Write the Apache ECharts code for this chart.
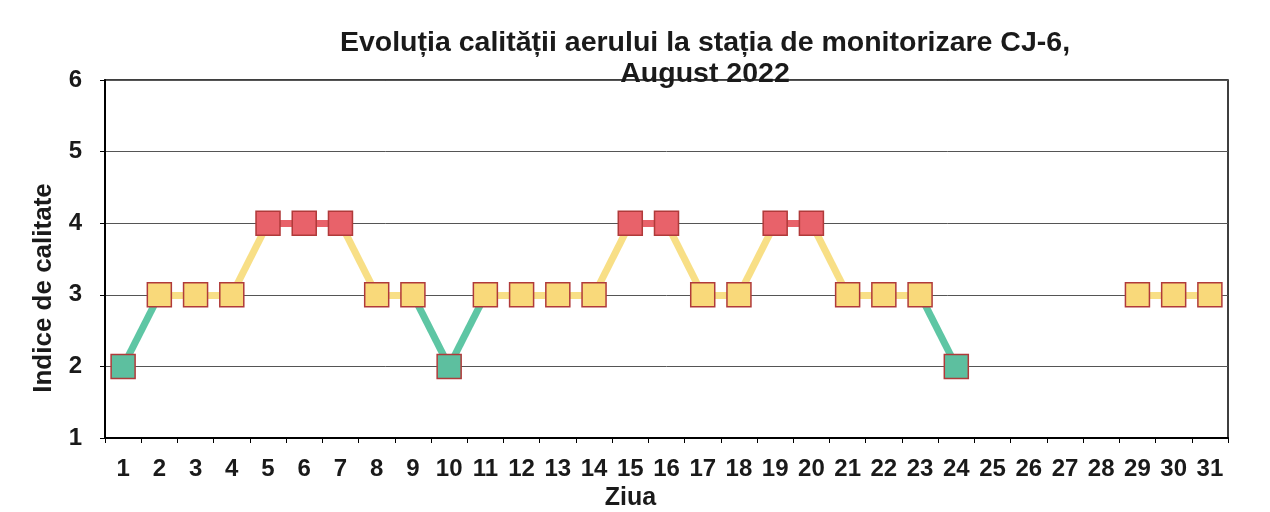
<!DOCTYPE html>
<html>
<head>
<meta charset="utf-8">
<script src="https://cdn.jsdelivr.net/npm/echarts@6/dist/echarts.min.js"></script>
<style>
    html, body { margin: 0; padding: 0; background: #fff; }
    #chart { width: 1270px; height: 512px; }
</style>
</head>
<body>
<div id="chart"></div>
<script>
// days of August 2022
let days = [];
for (let d = 1; d <= 31; d++) days.push(String(d));

// air quality index per day (no data 25-28)
let quality = [2, 3, 3, 3, 4, 4, 4, 3, 3, 2, 3, 3, 3, 3, 4, 4, 3, 3, 4, 4, 3, 3, 3, 2, null, null, null, null, 3, 3, 3];

let yTicks = [1, 2, 3, 4, 5, 6];

let markColor = { 2: '#5dbf9f', 3: '#f9d97a', 4: '#e8626a' };
let lineColor = { 2: '#5ec6a4', 3: '#f8df86', 4: '#e8626a' };

// ----------------------------------------------------
// line segments, colour = lower end of the segment
let segments = [];
for (let i = 0; i < quality.length - 1; i++) {
    let a = quality[i], b = quality[i + 1];
    if (a == null || b == null) continue;
    segments.push({
        coords: [[i, a], [i + 1, b]],
        lineStyle: { color: lineColor[Math.min(a, b)] }
    });
}
let points = [];
for (let i = 0; i < quality.length; i++) {
    if (quality[i] == null) continue;
    points.push({
        value: [i, quality[i]],
        itemStyle: { color: markColor[quality[i]] }
    });
}

let font = 'Liberation Sans, Arial, sans-serif';
let chart = echarts.init(document.getElementById('chart'));
let option = {
    backgroundColor: '#fff',
    animation: false,
    title: {
        text: 'Evoluția calității aerului la stația de monitorizare CJ-6,\nAugust 2022',
        left: 705,
        top: 28,
        padding: 0,
        textAlign: 'center',
        textStyle: {
            fontFamily: font,
            fontSize: 28.5,
            fontWeight: 'bold',
            color: '#1a1a1a',
            lineHeight: 31
        }
    },
    grid: {
        left: 105,
        right: 42,
        top: 80,
        bottom: 74,
        outerBoundsMode: 'none',
        show: true,
        borderColor: '#000',
        borderWidth: 1.5
    },
    xAxis: {
        type: 'category',
        data: days,
        boundaryGap: true,
        name: 'Ziua',
        nameLocation: 'middle',
        nameGap: 47,
        nameTextStyle: { fontFamily: font, fontSize: 25, fontWeight: 'bold', color: '#1a1a1a', padding: [0, 72, 0, 0] },
        axisLine: { lineStyle: { color: '#000', width: 2 } },
        axisTick: { show: true, length: 5, lineStyle: { color: '#000' } },
        axisLabel: { interval: 0, margin: 19, fontFamily: font, fontSize: 24, fontWeight: 'bold', color: '#1a1a1a' },
        splitLine: { show: false }
    },
    yAxis: {
        type: 'value',
        min: yTicks[0],
        max: yTicks[yTicks.length - 1],
        interval: 1,
        name: 'Indice de calitate',
        nameLocation: 'middle',
        nameGap: 48,
        nameTextStyle: { fontFamily: font, fontSize: 26, fontWeight: 'bold', color: '#1a1a1a', padding: [0, 58, 0, 0] },
        axisLine: { show: true, lineStyle: { color: '#000', width: 2 } },
        axisTick: { show: true, length: 5, lineStyle: { color: '#000' } },
        axisLabel: { margin: 23, fontFamily: font, fontSize: 24, fontWeight: 'bold', color: '#1a1a1a' },
        splitLine: { lineStyle: { color: '#555', width: 1 } }
    },
    series: [
        {
            type: 'lines',
            coordinateSystem: 'cartesian2d',
            data: segments,
            lineStyle: { width: 7, opacity: 1 },
            z: 2
        },
        {
            type: 'scatter',
            data: points,
            symbol: 'rect',
            symbolSize: 24,
            itemStyle: { borderColor: '#b03a3a', borderWidth: 1.5, opacity: 1 },
            z: 3
        }
    ]
};

chart.setOption(option);
</script>
</body>
</html>
